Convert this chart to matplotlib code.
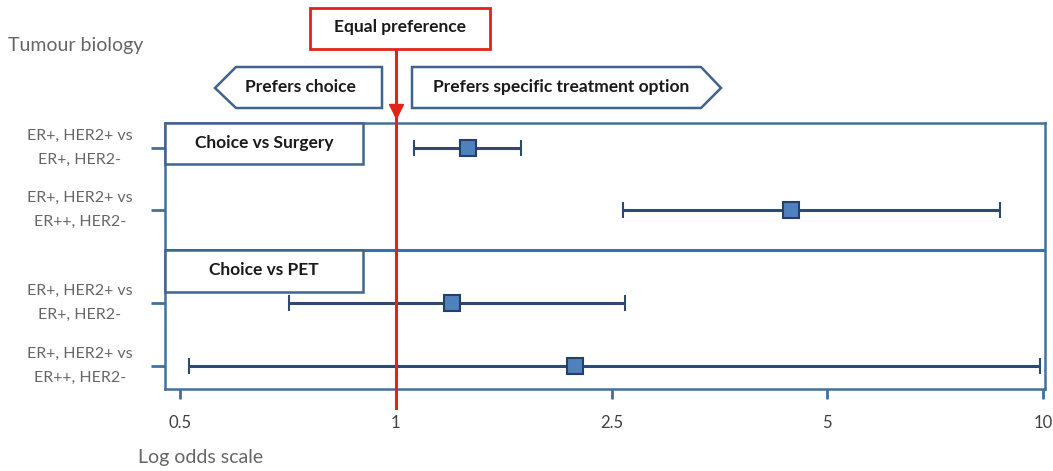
import numpy as np
import matplotlib.pyplot as plt
import matplotlib.transforms as mtransforms
from matplotlib.patches import Polygon, Rectangle

# odds ratios with confidence limits, top row first
row_labels = ["ER+, HER2+ vs\nER+, HER2-", "ER+, HER2+ vs\nER++, HER2-",
              "ER+, HER2+ vs\nER+, HER2-", "ER+, HER2+ vs\nER++, HER2-"]
odds = [1.36, 4.45, 1.27, 2.14]
ci_low = [1.08, 2.59, 0.71, 0.515]
ci_high = [1.70, 8.70, 2.61, 9.9]
tick_values = [0.5, 1, 2.5, 5, 10]
tick_labels = ["0.5", "1", "2.5", "5", "10"]

plt.rcParams['font.family'] = ['Lato', 'DejaVu Sans']

AXIS_BLUE = '#41719c'
DARK_BLUE = '#2c4a72'
RED = '#e2231a'
GREY = '#666666'

# the axis spaces the ticks evenly, log inside each step
knots = np.log(tick_values)
idx = np.arange(len(tick_values), dtype=float)


def forward(v):
    lv = np.log(np.asarray(v, dtype=float))
    out = np.interp(lv, knots, idx)
    out = np.where(lv < knots[0], (lv - knots[0]) / np.log(2), out)
    out = np.where(lv > knots[-1], idx[-1] + (lv - knots[-1]) / np.log(2), out)
    return out


def inverse(i):
    i = np.asarray(i, dtype=float)
    out = np.exp(np.interp(i, idx, knots))
    out = np.where(i < 0, tick_values[0] * 2 ** i, out)
    out = np.where(i > idx[-1], tick_values[-1] * 2 ** (i - idx[-1]), out)
    return out


fig = plt.figure(figsize=(10.53, 4.71), dpi=100)
ax = fig.add_axes([165 / 1053, 1 - 389 / 471, 880 / 1053, 266 / 471])
ax.set_xscale('function', functions=(forward, inverse))
ax.set_xlim(inverse(-0.0695), inverse(4.009))
ax.set_ylim(0, 1)

ypos = [0.906, 0.673, 0.323, 0.0865]
ax.errorbar(odds, ypos, xerr=[np.subtract(odds, ci_low), np.subtract(ci_high, odds)],
            fmt='s', color=DARK_BLUE, ecolor=DARK_BLUE, elinewidth=2.2,
            capsize=6, capthick=2.2, markersize=11, markerfacecolor='#4f81bd',
            markeredgecolor='#24406a', markeredgewidth=1.5, zorder=3)

# separator between the two comparisons
ax.axhline(0.523, color='#2e75b6', lw=2.2, zorder=2)

for s in ax.spines.values():
    s.set_color(AXIS_BLUE)
    s.set_linewidth(1.8)

ax.set_xticks(tick_values)
ax.set_xticklabels(tick_labels)
ax.xaxis.set_minor_locator(plt.NullLocator())
ax.set_yticks(ypos)
ax.set_yticklabels([])
ax.tick_params(axis='x', length=7, width=2, color=AXIS_BLUE, pad=12,
               labelsize=12, labelcolor='#404040')
ax.tick_params(axis='y', length=10, width=2, color=AXIS_BLUE)

# row labels, two centred lines each
ylab = mtransforms.blended_transform_factory(ax.transAxes, ax.transData)
for y, lab in zip(ypos, row_labels):
    ax.text(-0.097, y, lab, transform=ylab, ha='center', va='center',
            multialignment='center', linespacing=1.9, fontsize=11.5, color=GREY)

# red "equal preference" line with arrow
blend = mtransforms.blended_transform_factory(ax.transData, ax.transAxes)
ax.plot([1, 1], [-0.07, 1.28], color=RED, lw=2.2, transform=blend, clip_on=False, zorder=5)
ax.plot([1], [1.045], marker='v', markersize=10, color=RED, transform=blend,
        clip_on=False, zorder=5)

# overlay in pixel units for the labelled boxes
ov = fig.add_axes([0, 0, 1, 1], zorder=4)
ov.set_xlim(0, 1053)
ov.set_ylim(471, 0)
ov.axis('off')
ov.patch.set_alpha(0)

box_kw = dict(facecolor='white', edgecolor='#41648c', lw=1.8)
ov.add_patch(Polygon([(215, 88), (236, 67), (382, 67), (382, 108), (236, 108)], **box_kw))
ov.add_patch(Polygon([(412, 67), (701, 67), (721, 88), (701, 108), (412, 108)], **box_kw))
ov.add_patch(Rectangle((165, 123), 198, 41, **box_kw))
ov.add_patch(Rectangle((165, 250), 198, 42, **box_kw))
ov.add_patch(Rectangle((310, 8), 180, 41, facecolor='white', edgecolor=RED, lw=2))

bold = dict(fontsize=12.5, fontweight='bold', color='#1a1a1a', ha='center', va='center')
ov.text(300, 87, "Prefers choice", **bold)
ov.text(561, 87, "Prefers specific treatment option", **bold)
ov.text(264, 143, "Choice vs Surgery", **bold)
ov.text(264, 270, "Choice vs PET", **bold)
ov.text(400, 27, "Equal preference", **bold)

ov.text(8, 46, "Tumour biology", fontsize=14, color=GREY, ha='left', va='center')
ov.text(138, 458, "Log odds scale", fontsize=14, color=GREY, ha='left', va='center')

fig.savefig('out.png', dpi=100)
